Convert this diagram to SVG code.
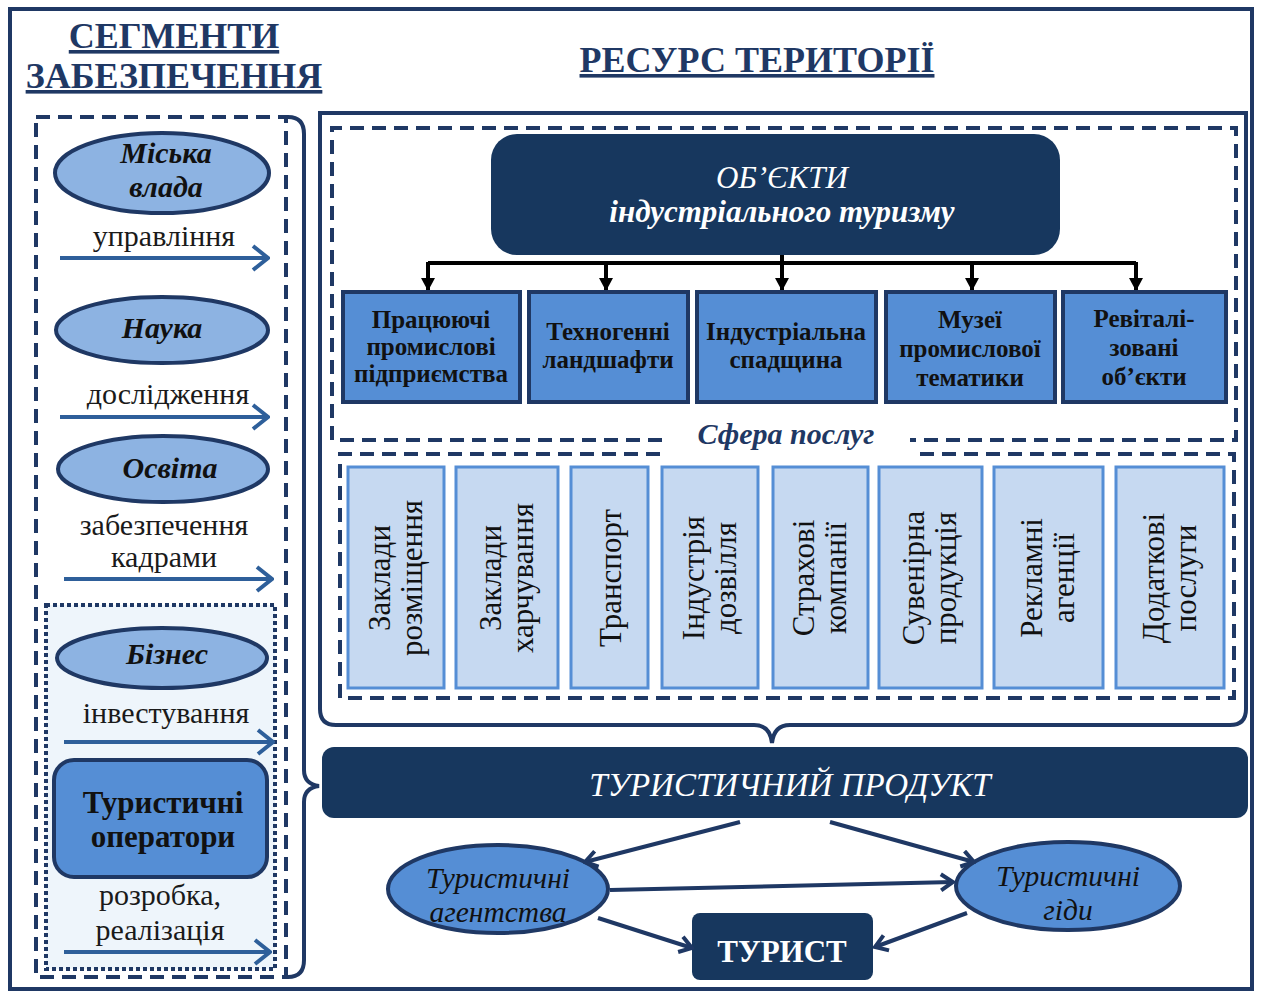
<svg xmlns="http://www.w3.org/2000/svg" width="1261" height="997" viewBox="0 0 1261 997">
<style>
.t{font-family:"Liberation Serif","Times New Roman",serif}
.title{font-family:"Liberation Serif",serif;font-weight:bold;font-size:36px;fill:#1f3864;text-decoration:underline;text-anchor:middle}
.ell{fill:#8db3e2;stroke:#1f3864;stroke-width:4}
.ell2{fill:#558ed5;stroke:#1f3864;stroke-width:4}
.lbl{font-family:"Liberation Serif",serif;font-size:30px;fill:#1a1a1a;text-anchor:middle}
.ebl{font-family:"Liberation Serif",serif;font-size:30px;font-weight:bold;font-style:italic;fill:#111;text-anchor:middle}
.obj{fill:#558ed5;stroke:#1f3864;stroke-width:4}
.objt{font-family:"Liberation Serif",serif;font-size:25px;font-weight:bold;fill:#111;text-anchor:middle}
.svc{fill:#c6d9f1;stroke:#558ed5;stroke-width:3}
.svct{font-family:"Liberation Serif",serif;font-size:31px;fill:#111;text-anchor:middle}
.dash{fill:none;stroke:#1f3864;stroke-width:4;stroke-dasharray:14 8}
.larr{fill:none;stroke:#2e5f9a;stroke-width:4;marker-end:url(#chev)}
.barr{fill:none;stroke:#1f3864;stroke-width:4;marker-end:url(#chevn)}
.dark{fill:#17375e}
.bt{font-family:"Liberation Serif",serif;font-size:29.5px;font-style:italic;fill:#111;text-anchor:middle}
</style>
<defs>
<marker id="chev" viewBox="0 0 20 28" refX="18" refY="14" markerWidth="20" markerHeight="28" markerUnits="userSpaceOnUse" orient="auto">
<path d="M3,2 L18,14 L3,26" fill="none" stroke="#2e5f9a" stroke-width="4"/>
</marker>
<marker id="chevn" viewBox="0 0 16 20" refX="14" refY="10" markerWidth="16" markerHeight="20" markerUnits="userSpaceOnUse" orient="auto">
<path d="M2,2 L14,10 L2,18" fill="none" stroke="#1f3864" stroke-width="4"/>
</marker>
<marker id="tri" viewBox="0 0 14 14" refX="12" refY="7" markerWidth="14" markerHeight="14" markerUnits="userSpaceOnUse" orient="auto">
<path d="M0,0 L13,7 L0,14 Z" fill="#000"/>
</marker>
</defs>
<rect width="1261" height="997" fill="#fff"/>
<rect x="10" y="9" width="1242" height="980" fill="none" stroke="#1f3864" stroke-width="4"/>

<g id="titles">
<text class="title" x="174" y="48">СЕГМЕНТИ</text>
<text class="title" x="174" y="88">ЗАБЕЗПЕЧЕННЯ</text>
<text class="title" x="757" y="72">РЕСУРС ТЕРИТОРІЇ</text>
</g>

<g id="segments-frame">
<rect x="36" y="117" width="250" height="860" class="dash"/>
<rect x="46" y="605" width="229" height="364" fill="#eef5fb" stroke="#1f3864" stroke-width="4" stroke-dasharray="4 3"/>
<path d="M288,117 Q304,117 304,134 L304,770 Q304,784 319,786 Q304,788 304,802 L304,960 Q304,977 288,977" fill="none" stroke="#1f3864" stroke-width="4"/>
</g>

<g id="miska-vlada">
<ellipse class="ell" cx="162" cy="173" rx="107" ry="40"/>
<text class="ebl" x="166" y="163">Міська</text>
<text class="ebl" x="166" y="197">влада</text>
</g>
<g id="nauka">
<ellipse class="ell" cx="162" cy="330" rx="106" ry="33"/>
<text class="ebl" x="162" y="338">Наука</text>
</g>
<g id="osvita">
<ellipse class="ell" cx="163" cy="469" rx="105" ry="33"/>
<text class="ebl" x="170" y="478">Освіта</text>
</g>
<g id="biznes">
<ellipse class="ell" cx="162" cy="658" rx="105" ry="30"/>
<text class="ebl" x="167" y="664">Бізнес</text>
</g>
<g id="operatory">
<rect x="54" y="760" width="213" height="117" rx="20" fill="#558ed5" stroke="#1f3864" stroke-width="4"/>
<text class="t" x="163" y="813" font-size="31" font-weight="bold" fill="#111" text-anchor="middle">Туристичні</text>
<text class="t" x="163" y="847" font-size="31" font-weight="bold" fill="#111" text-anchor="middle">оператори</text>
</g>

<g id="left-connectors">
<text class="lbl" x="164" y="246">управління</text>
<path class="larr" d="M60,258 L268,258"/>
<text class="lbl" x="168" y="404">дослідження</text>
<path class="larr" d="M60,417 L268,417"/>
<text class="lbl" x="164" y="535" font-size="29">забезпечення</text>
<text class="lbl" x="164" y="567" font-size="29">кадрами</text>
<path class="larr" d="M64,579 L272,579"/>
<text class="lbl" x="166" y="723">інвестування</text>
<path class="larr" d="M64,742 L273,742"/>
<text class="lbl" x="160" y="905">розробка,</text>
<text class="lbl" x="160" y="940">реалізація</text>
<path class="larr" d="M64,952 L270,952"/>
</g>

<g id="resource-frame">
<path d="M320,113 L1246,113 L1246,709 Q1246,725 1230,725 L790,725 Q774,725 772,743 Q770,725 754,725 L336,725 Q320,725 320,709 Z" fill="none" stroke="#1f3864" stroke-width="4"/>
<path class="dash" d="M662,440 L332,440 L332,128 L1236,128 L1236,440 L910,440"/>
<path class="dash" d="M660,454 L340,454 L340,698 L1234,698 L1234,454 L915,454"/>
<text class="t" x="786" y="444" font-size="30" font-weight="bold" font-style="italic" fill="#1f3864" text-anchor="middle">Сфера послуг</text>
</g>

<g id="objects">
<rect class="dark" x="491" y="134" width="569" height="121" rx="26"/>
<text class="t" x="782" y="188" font-size="31" font-style="italic" fill="#fff" text-anchor="middle">ОБ’ЄКТИ</text>
<text class="t" x="782" y="222" font-size="31" font-weight="bold" font-style="italic" fill="#fff" text-anchor="middle">індустріального туризму</text>
</g>

<g id="obj-connectors" fill="none" stroke="#000" stroke-width="4">
<path d="M782,255 L782,263"/>
<path d="M428,263 L1136,263"/>
<path d="M428,262 L428,290" marker-end="url(#tri)"/>
<path d="M606,262 L606,290" marker-end="url(#tri)"/>
<path d="M782,262 L782,290" marker-end="url(#tri)"/>
<path d="M972,262 L972,290" marker-end="url(#tri)"/>
<path d="M1136,262 L1136,290" marker-end="url(#tri)"/>
</g>

<g id="obj1"><rect class="obj" x="343" y="292" width="177" height="110"/>
<text class="objt" x="431" y="328" font-size="24">Працюючі</text><text class="objt" x="431" y="355" font-size="24">промислові</text><text class="objt" x="431" y="382" font-size="24">підприємства</text></g>
<g id="obj2"><rect class="obj" x="529" y="292" width="159" height="110"/>
<text class="objt" x="608" y="340">Техногенні</text><text class="objt" x="608" y="368">ландшафти</text></g>
<g id="obj3"><rect class="obj" x="697" y="292" width="179" height="110"/>
<text class="objt" x="786" y="340">Індустріальна</text><text class="objt" x="786" y="368">спадщина</text></g>
<g id="obj4"><rect class="obj" x="886" y="292" width="169" height="110"/>
<text class="objt" x="970" y="328">Музеї</text><text class="objt" x="970" y="357">промислової</text><text class="objt" x="970" y="386">тематики</text></g>
<g id="obj5"><rect class="obj" x="1063" y="292" width="163" height="110"/>
<text class="objt" x="1144" y="327">Ревіталі-</text><text class="objt" x="1144" y="356">зовані</text><text class="objt" x="1144" y="385">об’єкти</text></g>

<g id="svc1"><rect class="svc" x="348" y="467" width="96" height="221"/>
<text class="svct" transform="translate(396,578) rotate(-90)"><tspan x="0" y="-6">Заклади</tspan><tspan x="0" y="26">розміщення</tspan></text></g>
<g id="svc2"><rect class="svc" x="456" y="467" width="102" height="221"/>
<text class="svct" transform="translate(507,578) rotate(-90)"><tspan x="0" y="-6">Заклади</tspan><tspan x="0" y="26">харчування</tspan></text></g>
<g id="svc3"><rect class="svc" x="571" y="467" width="77" height="221"/>
<text class="svct" transform="translate(609,578) rotate(-90)"><tspan x="0" y="12">Транспорт</tspan></text></g>
<g id="svc4"><rect class="svc" x="662" y="467" width="96" height="221"/>
<text class="svct" transform="translate(710,578) rotate(-90)"><tspan x="0" y="-6">Індустрія</tspan><tspan x="0" y="26">дозвілля</tspan></text></g>
<g id="svc5"><rect class="svc" x="773" y="467" width="95" height="221"/>
<text class="svct" transform="translate(820,578) rotate(-90)"><tspan x="0" y="-6">Страхові</tspan><tspan x="0" y="26">компанії</tspan></text></g>
<g id="svc6"><rect class="svc" x="879" y="467" width="103" height="221"/>
<text class="svct" transform="translate(930,578) rotate(-90)"><tspan x="0" y="-6">Сувенірна</tspan><tspan x="0" y="26">продукція</tspan></text></g>
<g id="svc7"><rect class="svc" x="994" y="467" width="109" height="221"/>
<text class="svct" transform="translate(1048,578) rotate(-90)"><tspan x="0" y="-6">Рекламні</tspan><tspan x="0" y="26">агенції</tspan></text></g>
<g id="svc8"><rect class="svc" x="1116" y="467" width="108" height="221"/>
<text class="svct" transform="translate(1170,578) rotate(-90)"><tspan x="0" y="-6">Додаткові</tspan><tspan x="0" y="26">послуги</tspan></text></g>

<g id="product">
<rect class="dark" x="322" y="747" width="926" height="71" rx="12"/>
<text class="t" x="790" y="796" font-size="33" font-style="italic" fill="#fff" text-anchor="middle">ТУРИСТИЧНИЙ ПРОДУКТ</text>
</g>

<g id="agentstva">
<ellipse class="ell2" cx="498" cy="889" rx="110" ry="44"/>
<text class="bt" x="498" y="888">Туристичні</text>
<text class="bt" x="498" y="922">агентства</text>
</g>
<g id="gidy">
<ellipse class="ell2" cx="1068" cy="886" rx="112" ry="44"/>
<text class="bt" x="1068" y="886">Туристичні</text>
<text class="bt" x="1068" y="920">гіди</text>
</g>
<g id="turyst">
<rect class="dark" x="692" y="913" width="181" height="67" rx="8"/>
<text class="t" x="782" y="962" font-size="31" font-weight="bold" fill="#fff" text-anchor="middle">ТУРИСТ</text>
</g>

<g id="bottom-connectors">
<path class="barr" d="M740,822 L585,862"/>
<path class="barr" d="M830,822 L974,862"/>
<path class="barr" d="M610,890 L953,882"/>
<path class="barr" d="M598,918 L692,948"/>
<path class="barr" d="M967,913 L875,947"/>
</g>
</svg>
